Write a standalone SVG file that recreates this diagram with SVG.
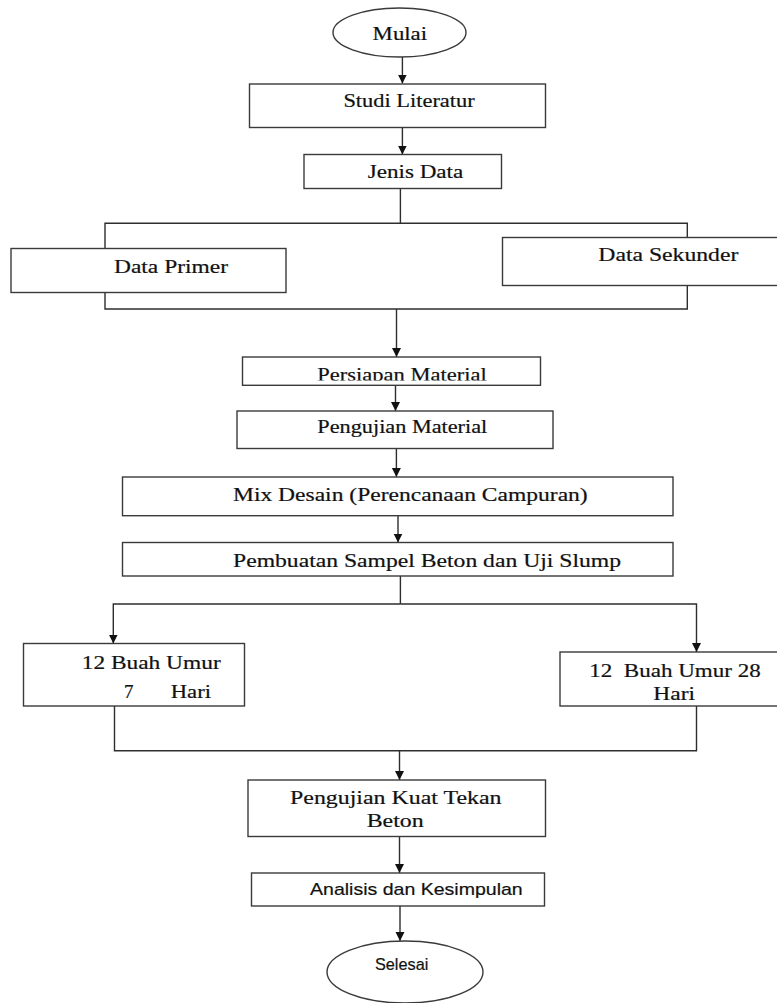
<svg xmlns="http://www.w3.org/2000/svg" width="777" height="1003" viewBox="0 0 777 1003">
<style>
.box{fill:#fff;stroke:#3a3a3a;stroke-width:1.4}
.ln{fill:none;stroke:#2e2e2e;stroke-width:1.4}
.t{font-family:"Liberation Serif","Times New Roman",serif;font-size:19px;fill:#111;stroke:#111;stroke-width:0.2;white-space:pre}
.s{font-family:"Liberation Sans",Arial,sans-serif;font-size:17px;fill:#111;stroke:#111;stroke-width:0.2}
</style>
<defs>
<marker id="ah" markerUnits="userSpaceOnUse" markerWidth="10" markerHeight="10" refX="9" refY="4.5" orient="auto">
<path d="M0,0 L9,4.5 L0,9 z" fill="#111"/>
</marker>
<clipPath id="cp"><rect x="243" y="357" width="297" height="23.5"/></clipPath>
</defs>
<rect width="777" height="1003" fill="#fff"/>
<g id="connectors">
<path class="ln" d="M402.4,57 V83.5" marker-end="url(#ah)"/>
<path class="ln" d="M402.4,127.7 V154.5" marker-end="url(#ah)"/>
<path class="ln" d="M400.4,188.3 V223.3"/>
<path class="ln" d="M105,248.5 V223.3 H687.3 V237.5"/>
<path class="ln" d="M105,292.7 V309 H687.3 V285.7"/>
<path class="ln" d="M396.5,309 V357" marker-end="url(#ah)"/>
<path class="ln" d="M395.5,385.3 V411" marker-end="url(#ah)"/>
<path class="ln" d="M396.4,448.5 V477" marker-end="url(#ah)"/>
<path class="ln" d="M398,515.7 V542.5" marker-end="url(#ah)"/>
<path class="ln" d="M400.4,576 V604"/>
<path class="ln" d="M400.4,604 H113.3 V643.5" marker-end="url(#ah)"/>
<path class="ln" d="M400.4,604 H696.5 V652" marker-end="url(#ah)"/>
<path class="ln" d="M114.5,706 V750.7 H696.5 V706"/>
<path class="ln" d="M399.5,750.7 V780" marker-end="url(#ah)"/>
<path class="ln" d="M399.5,836.7 V873" marker-end="url(#ah)"/>
<path class="ln" d="M400,906 V941" marker-end="url(#ah)"/>
</g>
<g id="mulai">
<ellipse class="box" cx="399.5" cy="32.5" rx="66.5" ry="24.5"/>
<text class="t" x="372.6" y="40" textLength="54.5" lengthAdjust="spacingAndGlyphs">Mulai</text>
</g>
<g id="studi">
<rect class="box" x="249.5" y="84" width="296" height="43.5"/>
<text class="t" x="343.4" y="107.3" textLength="131.3" lengthAdjust="spacingAndGlyphs">Studi Literatur</text>
</g>
<g id="jenis">
<rect class="box" x="304" y="154.5" width="197.5" height="34"/>
<text class="t" x="367.7" y="177.7" textLength="95.6" lengthAdjust="spacingAndGlyphs">Jenis Data</text>
</g>
<g id="primer">
<rect class="box" x="11" y="248.5" width="275" height="44"/>
<text class="t" x="114" y="272.7" textLength="114" lengthAdjust="spacingAndGlyphs">Data Primer</text>
</g>
<g id="sekunder">
<rect class="box" x="502.5" y="237.5" width="290" height="48"/>
<text class="t" x="598.3" y="260.7" textLength="140" lengthAdjust="spacingAndGlyphs">Data Sekunder</text>
</g>
<g id="persiapan">
<rect class="box" x="242.5" y="357" width="298" height="28.3"/>
<text class="t" x="317.3" y="380.5" textLength="169.4" lengthAdjust="spacingAndGlyphs" clip-path="url(#cp)">Persiapan Material</text>
</g>
<g id="pengujian-material">
<rect class="box" x="237" y="411" width="316" height="37.5"/>
<text class="t" x="317.3" y="433.3" textLength="170" lengthAdjust="spacingAndGlyphs">Pengujian Material</text>
</g>
<g id="mix">
<rect class="box" x="122.5" y="477" width="550.5" height="38.7"/>
<text class="t" x="233" y="501" textLength="354.7" lengthAdjust="spacingAndGlyphs">Mix Desain (Perencanaan Campuran)</text>
</g>
<g id="pembuatan">
<rect class="box" x="122.5" y="542.5" width="550.5" height="33.5"/>
<text class="t" x="233" y="566.5" textLength="388" lengthAdjust="spacingAndGlyphs">Pembuatan Sampel Beton dan Uji Slump</text>
</g>
<g id="umur7">
<rect class="box" x="23.5" y="643.5" width="221" height="62.5"/>
<text class="t" x="81.7" y="669.3" textLength="139" lengthAdjust="spacingAndGlyphs">12 Buah Umur</text>
<text class="t" y="698.3"><tspan x="124">7 </tspan><tspan x="170.7" textLength="40.3" lengthAdjust="spacingAndGlyphs">Hari</tspan></text>
</g>
<g id="umur28">
<rect class="box" x="560" y="652" width="240" height="54"/>
<text class="t" x="589.3" y="676.7" textLength="171.4" lengthAdjust="spacingAndGlyphs">12  Buah Umur 28</text>
<text class="t" x="653.3" y="700" textLength="41.7" lengthAdjust="spacingAndGlyphs">Hari</text>
</g>
<g id="kuat-tekan">
<rect class="box" x="248" y="780" width="297.5" height="56.5"/>
<text class="t" x="290" y="804" textLength="211.5" lengthAdjust="spacingAndGlyphs">Pengujian Kuat Tekan</text>
<text class="t" x="366.7" y="827.3" textLength="57" lengthAdjust="spacingAndGlyphs">Beton</text>
</g>
<g id="analisis">
<rect class="box" x="251.5" y="873" width="293" height="33"/>
<text class="s" x="310" y="895" textLength="212.7" lengthAdjust="spacingAndGlyphs">Analisis dan Kesimpulan</text>
</g>
<g id="selesai">
<ellipse class="box" cx="405" cy="972" rx="78" ry="31"/>
<text class="s" x="375" y="970" textLength="53.3" lengthAdjust="spacingAndGlyphs">Selesai</text>
</g>
</svg>
